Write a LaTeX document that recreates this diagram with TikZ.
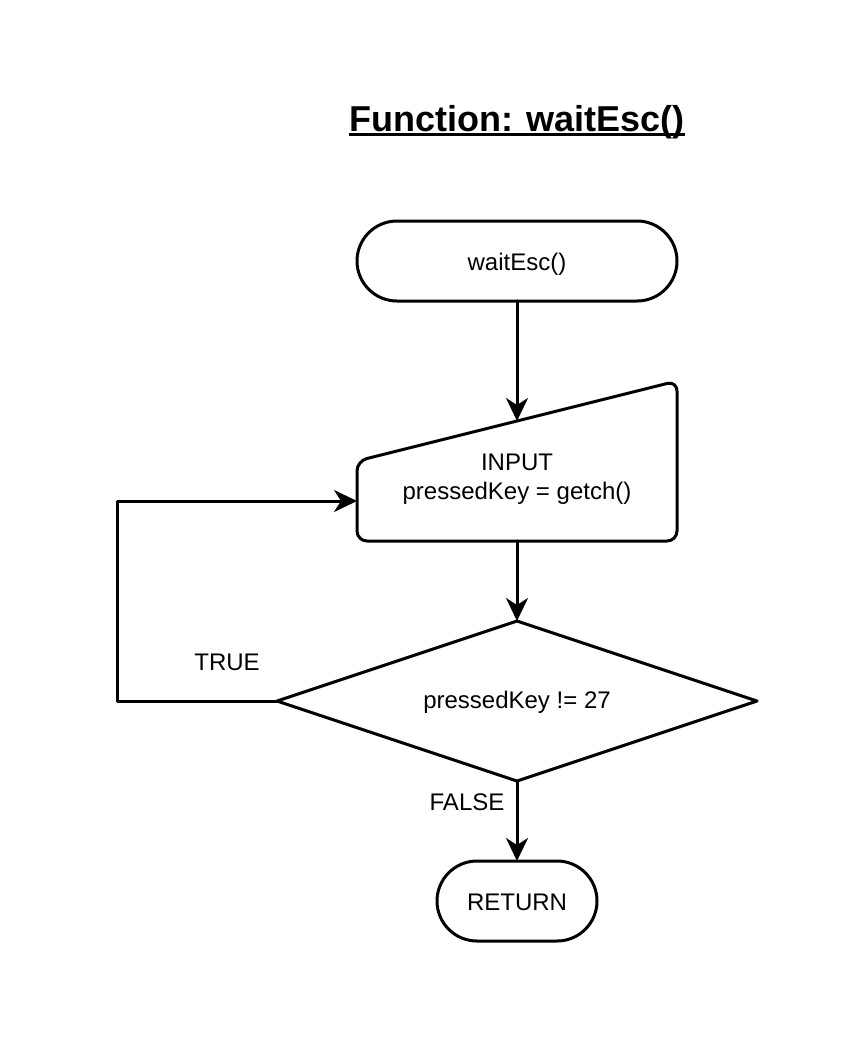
\documentclass[tikz,border=0pt]{standalone}
\usepackage{fontspec}
\setmainfont{Liberation Sans}
\usepackage{tikz}
\usetikzlibrary{arrows.meta}
\usetikzlibrary{shapes.geometric,shapes.misc}
\tikzset{
	>={Stealth[length=11.5pt, width=11pt, inset=3.5pt]},
	flow/.style={black, line width=1.5pt, ->},
	terminal/.style={draw, line width=1.5pt, rounded rectangle, minimum height=40pt, inner sep=0pt, outer sep=0pt, text height=11.5pt, text depth=2.5pt, font=\fontsize{12}{14.5}\selectfont},
	decision/.style={draw, line width=1.5pt, diamond, aspect=3, minimum width=240pt, minimum height=80pt, inner sep=0pt, outer sep=0pt, text height=10.3pt, text depth=2.5pt, font=\fontsize{12}{14.5}\selectfont},
	boxtext/.style={align=center, font=\fontsize{12}{14.5}\selectfont},
	branch/.style={font=\fontsize{12}{14.5}\selectfont},
	heading/.style={inner sep=0pt, font=\fontsize{18}{21}\selectfont\bfseries}
}

\begin{document}
\begin{tikzpicture}[x=0.5pt, y=-0.5pt, line cap=round, line join=round]
		\useasboundingbox (0,0) rectangle (858,1044);
		
		% Title with thick underline
		\node[heading, anchor=base] (title) at (517,131) {Function: waitEsc()};
		\draw[line width=1.5pt, line cap=butt] ([yshift=-1.8pt]title.base west) -- ([yshift=-1.8pt]title.base east);
		
		% Start
		\node[terminal, minimum width=160pt] (start) at (517,261) {waitEsc()};
		
		% Manual input block (slanted top)
		\coordinate (inpsw) at (357,541);
		\coordinate (inpse) at (677,541);
		\coordinate (inpne) at (677,381);
		\coordinate (inpnw) at (357,461);
		\draw[line width=1.5pt, rounded corners=5pt] (inpsw) -- (inpnw) -- (inpne) -- (inpse) -- cycle;
		\node[boxtext] (inp) at (517,479) {INPUT\\pressedKey = getch()};
		\coordinate (inptop) at (517,421);
		\coordinate (inpbot) at (517,541);
		\coordinate (inpw) at (357,501);
		
		% Decision
		\node[decision] (dec) at (517,701) {pressedKey != 27};
		
		% End
		\node[terminal, minimum width=80pt] (ret) at (517,901) {RETURN};
		
		% Connectors
		\draw[flow] (start.south) -- (inptop);
		\draw[flow] (inpbot) -- (dec.north);
		\coordinate (loopcorner) at (117,701);
		\draw[flow] (dec.west) -- (loopcorner) |- (inpw);
		\draw[flow] (dec.south) -- (ret.north);
		
		% Branch labels
		\node[branch] (truelbl) at (227,662) {TRUE};
		\node[branch] (falselbl) at (467,802) {FALSE};
	\end{tikzpicture}
\end{document}
